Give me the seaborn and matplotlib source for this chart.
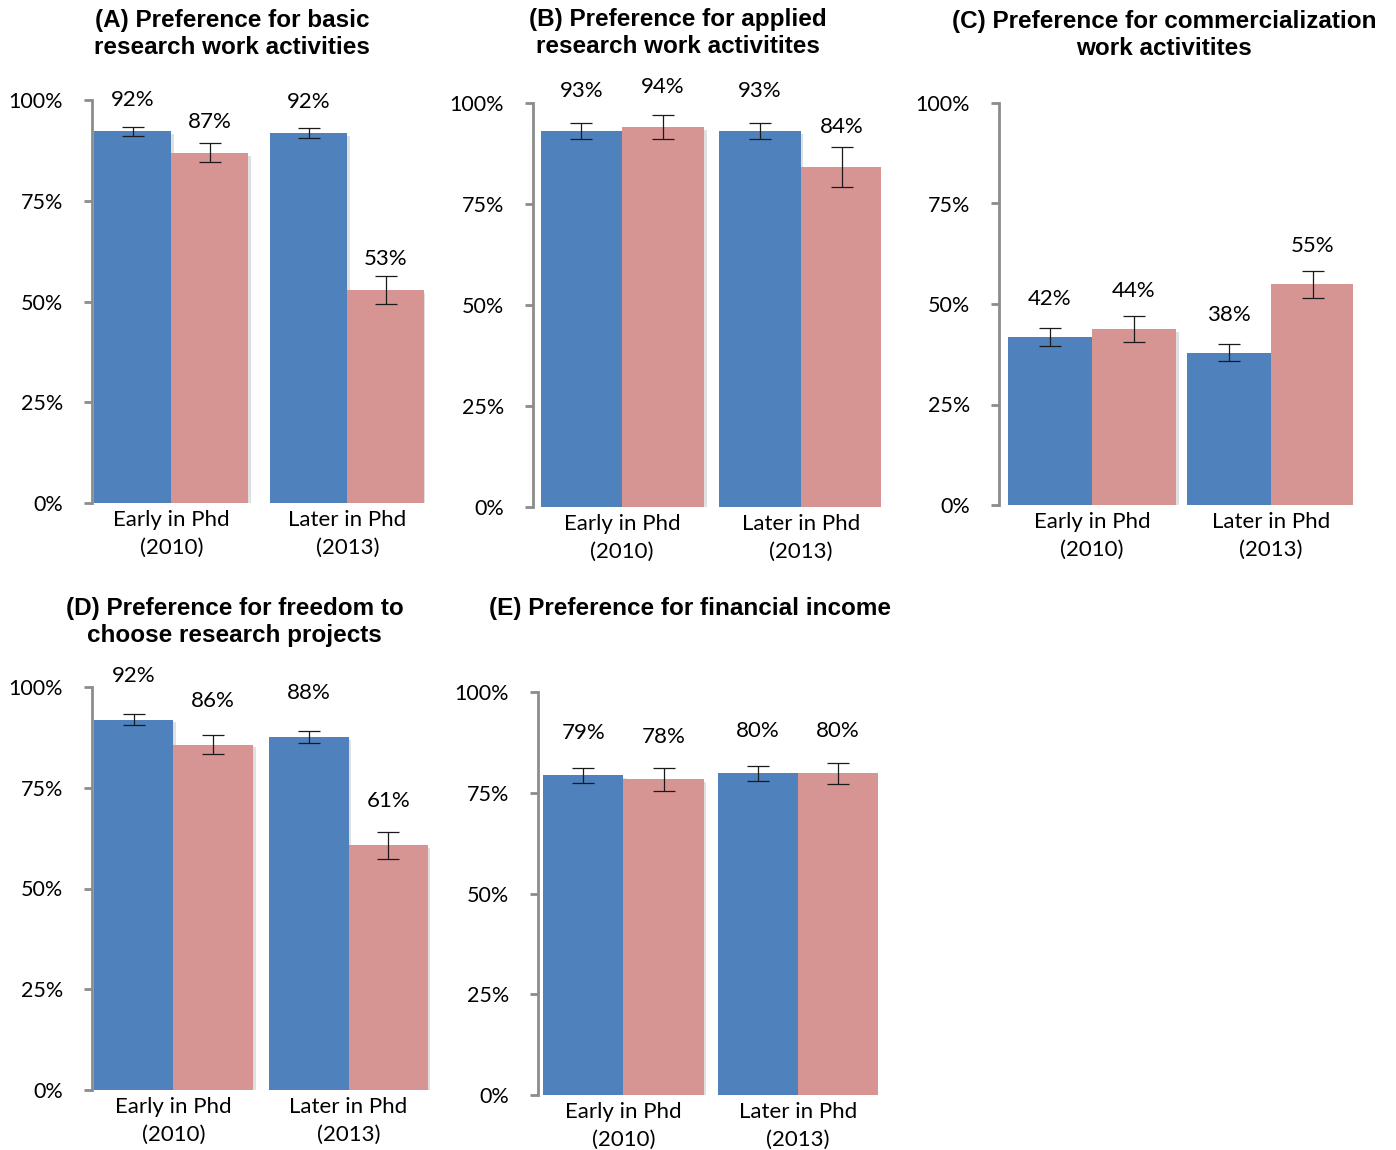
import numpy as np
import pandas as pd
import matplotlib
matplotlib.use("Agg")
import matplotlib.pyplot as plt
import matplotlib.patheffects as pe
import seaborn as sns

# data (percent)
stages = ["Early in Phd\n(2010)", "Later in Phd\n(2013)"]
series = ["Series 1", "Series 2"]

titles = [
    "(A) Preference for basic\nresearch work activities",
    "(B) Preference for applied\nresearch work activitites",
    "(C) Preference for commercialization\nwork activitites",
    "(D) Preference for freedom to\nchoose research projects",
    "(E) Preference for financial income",
]

basic_s1 = [92.2, 91.8]
basic_s2 = [86.9, 52.9]
basic_err_s1 = [1.1, 1.3]
basic_err_s2 = [2.4, 3.4]

applied_s1 = [93.1, 93.1]
applied_s2 = [94.0, 84.1]
applied_err_s1 = [2.0, 2.0]
applied_err_s2 = [3.0, 5.0]

commercial_s1 = [41.8, 37.9]
commercial_s2 = [43.8, 54.9]
commercial_err_s1 = [2.2, 2.2]
commercial_err_s2 = [3.3, 3.4]

freedom_s1 = [91.9, 87.6]
freedom_s2 = [85.7, 60.7]
freedom_err_s1 = [1.3, 1.5]
freedom_err_s2 = [2.4, 3.3]

income_s1 = [79.3, 79.8]
income_s2 = [78.3, 79.8]
income_err_s1 = [1.9, 1.8]
income_err_s2 = [2.9, 2.7]

yticks = [0, 25, 50, 75, 100]

panels = [
    (basic_s1, basic_s2, basic_err_s1, basic_err_s2),
    (applied_s1, applied_s2, applied_err_s1, applied_err_s2),
    (commercial_s1, commercial_s2, commercial_err_s1, commercial_err_s2),
    (freedom_s1, freedom_s2, freedom_err_s1, freedom_err_s2),
    (income_s1, income_s2, income_err_s1, income_err_s2),
]

# layout (pixels in a 1396x1150 canvas)
W, H = 1396, 1150
axes_px = [(92, 425, 100, 503), (533, 881, 103, 507), (999, 1353, 103, 505),
           (92, 430, 687, 1090), (538, 878, 692, 1095)]
xlims = [(-0.45, 1.44), (-0.5, 1.45), (-0.52, 1.46), (-0.465, 1.465), (-0.49, 1.46)]
widths = [0.874, 0.915, 0.94, 0.91, 0.92]
label_off = [31, 40, 38, 44, 42]
title_pos = [(232, 34), (678, 33), (1164, 35), (234.5, 622), (690, 608)]

colors = ["#4F81BD", "#D69593"]

sns.set_style("white")
plt.rcParams["font.family"] = ["Lato", "DejaVu Sans"]

fig = plt.figure(figsize=(W / 100, H / 100), dpi=100)

for i, (s1, s2, e1, e2) in enumerate(panels):
    l, r, t, b = axes_px[i]
    ax = fig.add_axes([l / W, 1 - b / H, (r - l) / W, (b - t) / H])
    df = pd.DataFrame({
        "stage": stages * 2,
        "series": [series[0]] * 2 + [series[1]] * 2,
        "value": list(s1) + list(s2),
    })
    sns.barplot(data=df, x="stage", y="value", hue="series", order=stages,
                hue_order=series, palette=colors, saturation=1, width=widths[i],
                linewidth=0, errorbar=None, legend=False, ax=ax)
    for p in ax.patches:
        p.set_path_effects([pe.SimplePatchShadow(offset=(2, -2), shadow_rgbFace="k", alpha=0.12),
                            pe.Normal()])
    for cont, vals, errs in zip(ax.containers, (s1, s2), (e1, e2)):
        xs = [p.get_x() + p.get_width() / 2 for p in cont]
        ax.errorbar(xs, vals, yerr=errs, fmt="none", ecolor="#1a1a1a",
                    elinewidth=0.9, capsize=8, capthick=0.9)
        for x, v in zip(xs, vals):
            ax.annotate(f"{v:.0f}%", (x, v), xytext=(0, label_off[i] * 0.72),
                        textcoords="offset points", ha="center", va="center",
                        fontsize=16, color="black", annotation_clip=False)
    ax.set_xlim(*xlims[i])
    ax.set_ylim(0, 100)
    ax.set_yticks(yticks)
    ax.set_yticklabels([f"{v}%" for v in yticks])
    ax.set_xticks(range(len(stages)))
    ax.set_xticklabels(stages, linespacing=1.5)
    ax.set_xlabel("")
    ax.set_ylabel("")
    for s in ["top", "right", "bottom"]:
        ax.spines[s].set_visible(False)
    ax.spines["left"].set_color("#8c8c8c")
    ax.spines["left"].set_linewidth(2)
    ax.tick_params(axis="y", length=6, width=2, color="#8c8c8c", labelsize=15.5,
                   labelcolor="black", pad=15, left=True)
    ax.tick_params(axis="x", length=0, labelsize=16, labelcolor="black", pad=5)

    tx, ty = title_pos[i]
    fig.text(tx / W, 1 - ty / H, titles[i], ha="center", va="center",
             fontsize=17.5, fontweight="bold", color="black",
             family=["Liberation Sans", "DejaVu Sans"], linespacing=1.27)

fig.savefig("out.png", dpi=100, facecolor="white")
